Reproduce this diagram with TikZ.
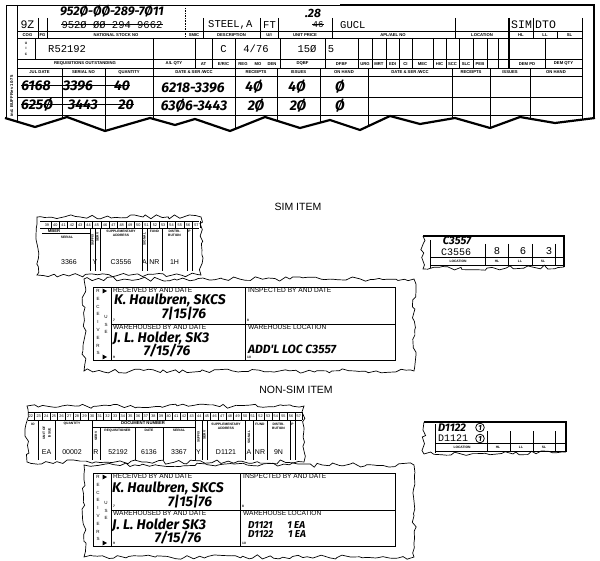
\documentclass[tikz,border=0pt]{standalone}
\usepackage{fontspec}
\setsansfont{Liberation Sans}
\setmonofont{Liberation Mono}
\newfontfamily\handfont{Fira Sans}
\usetikzlibrary{positioning, decorations.pathmorphing}

\tikzset{
  rule/.style={line width=0.65pt},
  heavy/.style={line width=2.4pt},
  strike/.style={line width=1pt},
  torn/.style={line width=0.7pt, decorate, decoration={random steps, segment length=5pt, amplitude=2.2pt}},
  lbl/.style={inner sep=0pt, font=\fontsize{4.2}{4.5}\sffamily\bfseries},
  tny/.style={inner sep=0pt, font=\fontsize{3.3}{3.6}\sffamily\bfseries},
  fld/.style={inner sep=0pt, font=\fontsize{6.6}{7}\sffamily},
  typ/.style={inner sep=0pt, font=\fontsize{10.5}{11}\ttfamily},
  hand/.style={inner sep=0pt, font=\fontsize{14}{15}\handfont\itshape\bfseries},
  punch/.style={inner sep=0pt, font=\fontsize{7}{8}\sffamily},
  num/.style={inner sep=0pt, font=\fontsize{3.8}{4}\sffamily},
  circ/.style={circle, draw, line width=0.8pt, inner sep=0.9pt, font=\fontsize{7.5}{8}\handfont\itshape\bfseries},
  title/.style={inner sep=0pt, font=\fontsize{10.5}{11}\sffamily},
}

\begin{document}
\begin{tikzpicture}[x=1pt, y=-1pt]
\pgfmathsetseed{11}
\useasboundingbox (0,0) rectangle (600,561);

% Stock card: rules
\draw[rule] (6,5) -- (6,135);
\draw[rule] (17,5) -- (17,135);
\draw[rule] (6,5) -- (340,5);
\foreach \y in {31,38,59,68,76,97,115}
  \draw[rule] (17,\y) -- (582,\y);
\foreach \x in {38,47,203,260,278,332,455,533}
  \draw[rule] (\x,18) -- (\x,38);
\draw[rule, densely dotted] (185,8) -- (185,38);
\draw[line width=1.3pt] (509,18) -- (509,68);
\draw[rule] (557,31) -- (557,38);
\draw[rule] (582,18) -- (582,135);
\draw[rule] (35,38) -- (35,59);
\foreach \x in {153,195,212,235,280,325,358,372,386,399,412,433,446,459,473,487,498,545}
  \draw[rule] (\x,38) -- (\x,68);
\foreach \x in {62,105,153,235,277,320,368,452,490,530}
  \draw[rule] (\x,68) -- (\x,135);

% Stock card: printed labels
\foreach \x/\t [count=\i] in {27.5/COG, 42.5/FG, 116/NATIONAL STOCK NO, 194/SMIC, 231.5/DESCRIPTION,
    269/{U/I}, 305/UNIT PRICE, 393/{APL/AEL NO}, 482/LOCATION, 521/HL, 545/LL, 569.5/SL}
  \node[lbl] (ha\i) at (\x,34.8) {\t};
\foreach \x/\t [count=\i] in {85/REQUISITIONS OUTSTANDING, 174/{A/L QTY}, 203.5/AT, 223.5/{E/R/C},
    243/REG, 258/MO, 272/DEN, 302.5/DQBF, 341.5/DFBF, 365/URG, 379/MRT, 392.5/EDI, 405.5/CI,
    422.5/MEC, 439.5/HIC, 452.5/SCC, 466/SLC, 480/PEB, 527/DEM PD, 563.5/DEM QTY}
  \node[lbl] (hb\i) at (\x,63.8) {\t};
\foreach \x/\t [count=\i] in {39.5/JUL DATE, 83.5/SERIAL NO, 129/QUANTITY, 194/{DATE \& SER /WCC},
    256/RECEIPTS, 298.5/ISSUES, 344/ON HAND, 410/{DATE \& SER /WCC}, 471/RECEIPTS, 510/ISSUES, 556/ON HAND}
  \node[lbl] (hc\i) at (\x,72.3) {\t};
\node[lbl, rotate=90] (form) at (11.5,96) {ind. BUFF Rev 10-75};
\foreach \c [count=\i from 0] in {U,I,C}
  \node[tny] (uic\i) at (26,43+\i*5.5) {\c};

% Stock card: entries
\node[typ, font=\fontsize{11.5}{12}\ttfamily] (cog) at (27.5,25) {9Z};
\node[hand, font=\fontsize{12.5}{13}\handfont\itshape\bfseries] (nsn) at (112,11.5) {952Ø-ØØ-289-7Ø11};
\node[typ] (oldnsn) at (112,25) {952Ø ØØ 294 9662};
\draw[strike] (oldnsn.west) -- (oldnsn.east);
\node[typ, anchor=west] (desc) at (208,25) {STEEL,A};
\node[typ, anchor=west] (ui) at (263,25) {FT};
\node[hand, font=\fontsize{12}{13}\handfont\itshape\bfseries] (price) at (313,13) {.28};
\node[typ, font=\fontsize{9}{9}\ttfamily] (oldprice) at (318,25) {46};
\draw[strike] (oldprice.west) -- (oldprice.east);
\node[typ, anchor=west] (gucl) at (340,25) {GUCL};
\node[typ, anchor=west, font=\fontsize{11.5}{12}\ttfamily] (sim) at (511,25) {SIM};
\node[typ, anchor=west, font=\fontsize{11.5}{12}\ttfamily] (dto) at (535,25) {DTO};
\node[typ, anchor=west] (req) at (48,49) {R52192};
\node[typ] (erc) at (223.5,49) {C};
\node[typ] (reg) at (256,49) {4/76};
\node[typ] (dqbf) at (307,49) {15Ø};
\node[typ] (dfbf) at (331,49) {5};

% Stock card: posting rows
\node[hand] (o1d) at (36,86) {6168};
\node[hand] (o1s) at (78,86) {3396};
\node[hand] (o1q) at (122,86) {40};
\draw[strike] (o1d.west) -- (o1q.east);
\node[hand] (o2d) at (37,105) {625Ø};
\node[hand] (o2s) at (83,105) {3443};
\node[hand] (o2q) at (126,105) {20};
\draw[strike] (o2d.west) -- (o2q.east);
\node[hand] (p1w) at (193,88) {6218-3396};
\node[hand] (p1r) at (254,87) {4Ø};
\node[hand] (p1i) at (297,87) {4Ø};
\node[hand] (p1h) at (340,87) {Ø};
\node[hand] (p2w) at (194,106) {63Ø6-3443};
\node[hand] (p2r) at (256,106) {2Ø};
\node[hand] (p2i) at (298,106) {2Ø};
\node[hand] (p2h) at (340,106) {Ø};

% Stock card: torn bottom and edge
\fill[white] (4,118) -- (35,127) -- (67,117) -- (105,131) -- (150,118) -- (175,125) -- (195,119)
  -- (230,131) -- (265,117) -- (300,128) -- (330,120) -- (360,130) -- (390,116) -- (420,124)
  -- (455,118) -- (490,128) -- (520,117) -- (555,123) -- (596,118) -- (596,140) -- (4,140) -- cycle;
\draw[line width=2.2pt] (5,118) -- (35,127) -- (67,117) -- (105,131) -- (150,118) -- (175,125) -- (195,119)
  -- (230,131) -- (265,117) -- (300,128) -- (330,120) -- (360,130) -- (390,116) -- (420,124)
  -- (455,118) -- (490,128) -- (520,117) -- (555,123) -- (595,118);
\draw[heavy] (340,5) -- (594,5) -- (594,119);

% Titles
\node[title] (simtitle) at (298,207) {SIM ITEM};
\node[title] (nonsimtitle) at (296,390) {NON-SIM ITEM};

% SIM item: card stub
\draw[rule] (40,221) -- (199,221);
\draw[rule] (40,228.5) -- (199,228.5);
\foreach \n [count=\i from 0] in {39,...,57} {
  \node[num] (s\n) at (47+\i*8.3,224.8) {\n};
  \draw[rule] (51.2+\i*8.3,221) -- (51.2+\i*8.3,228.5);
}
\foreach \x in {90,95,100,142,147,162,187,192}
  \draw[rule] (\x,228.5) -- (\x,271);
\draw[rule] (42,233) -- (90,233);
\node[lbl] (smber) at (54,231) {MBER};
\node[tny] (sserial) at (67,237) {SERIAL};
\node[tny, rotate=90] (ssuffix) at (92.5,240) {SUFFIX};
\node[tny, rotate=90] (sserv) at (97.5,237) {SERV};
\node[tny] (ssupp) at (121,231.5) {SUPPLEMENTARY};
\node[tny] (saddr) at (121,235.5) {ADDRESS};
\node[tny, rotate=90] (ssignal) at (144.5,239) {SIGNAL};
\node[tny] (sfund) at (154.5,231.5) {FUND};
\node[tny] (sdist) at (174.5,231.5) {DISTRI-};
\node[tny] (sdist2) at (174.5,235.5) {BUTION};
\node[tny] (sp) at (189.5,231.5) {P};
\foreach \x/\t [count=\i] in {69/3366, 95/Y, 121/C3556, 144.5/A, 154.5/NR, 174.5/1H}
  \node[punch] (sd\i) at (\x,262) {\t};
\draw[torn] (37,217) rectangle (201,275);

% SIM item: bin label
\draw[rule] (430,240) -- (430,268);
\foreach \x in {485,508,532,555}
  \draw[rule] (\x,244) -- (\x,266);
\draw[rule] (430,257) -- (564,257);
\draw[rule] (430,265.5) -- (564,265.5);
\draw[torn] (564,267) -- (423,269) -- (423,236);
\draw[line width=2pt] (423,236) -- (564,236) -- (564,267);
\node[hand, font=\fontsize{11}{12}\handfont\itshape\bfseries] (newloc) at (457,240.5) {C3557};
\node[typ, font=\fontsize{10}{10}\ttfamily] (oldloc) at (456,251.8) {C3556};
\node[typ] (hl) at (497,251) {8};
\node[typ] (ll) at (523,251) {6};
\node[typ] (sl) at (549,251) {3};
\foreach \x/\t [count=\i] in {458/LOCATION, 497/HL, 520/LL, 543/SL}
  \node[tny] (sb\i) at (\x,261.5) {\t};

% Receiver's use blocks
\foreach \oy/\mx in {0/245, 186/240} {
  \draw[torn] (84,279+\oy) rectangle (414,371+\oy);
  \draw[rule] (93,287+\oy) rectangle (395,360+\oy);
  \draw[rule] (111,287+\oy) -- (111,360+\oy);
  \draw[rule] (\mx,287+\oy) -- (\mx,360+\oy);
  \draw[rule] (111,324+\oy) -- (395,324+\oy);
  \foreach \c [count=\i from 0] in {R,E,C,E,I,V,E,R,S}
    \node[tny, font=\fontsize{4.5}{5}\sffamily] (rc\oy-\i) at (98,291+\i*7.8+\oy) {\c};
  \foreach \c [count=\i from 0] in {U,S,E}
    \node[tny, font=\fontsize{4.5}{5}\sffamily] (us\oy-\i) at (106,317+\i*7.5+\oy) {\c};
  \fill (102.5,288.5+\oy) -- (107,291+\oy) -- (102.5,293.5+\oy) -- cycle;
  \fill (102.5,354.5+\oy) -- (107,357+\oy) -- (102.5,359.5+\oy) -- cycle;
  \node[fld, anchor=west] (rb\oy) at (113,290.5+\oy) {RECEIVED BY AND DATE};
  \node[fld, anchor=west] (ib\oy) at (\mx+3,290.5+\oy) {INSPECTED BY AND DATE};
  \node[fld, anchor=west] (wb\oy) at (113,327.5+\oy) {WAREHOUSED BY AND DATE};
  \node[fld, anchor=west] (wl\oy) at (\mx+3,327.5+\oy) {WAREHOUSE LOCATION};
  \node[tny, anchor=west] (f7\oy) at (113,320+\oy) {7};
  \node[tny, anchor=west] (f8\oy) at (\mx+2,320+\oy) {8};
  \node[tny, anchor=west] (f9\oy) at (113,357+\oy) {9};
  \node[tny, anchor=west] (f10\oy) at (\mx+2,357+\oy) {10};
}
\node[hand, anchor=west] (rcv1) at (114,300) {K. Haulbren, SKCS};
\node[hand] (rdt1) at (184,314) {7|15|76};
\node[hand, anchor=west] (whs1) at (113,338) {J. L. Holder, SK3};
\node[hand] (wdt1) at (167,351) {7/15/76};
\node[hand, anchor=west, font=\fontsize{12}{13}\handfont\itshape\bfseries] (wloc1) at (248,349) {ADD'L LOC C3557};
\node[hand, anchor=west] (rcv2) at (112,488) {K. Haulbren, SKCS};
\node[hand] (rdt2) at (190,502) {7|15|76};
\node[hand, anchor=west] (whs2) at (112,525) {J. L. Holder SK3};
\node[hand] (wdt2) at (178,538) {7/15/76};
\node[hand, anchor=west, font=\fontsize{10}{11}\handfont\itshape\bfseries] (wloc2a) at (248,525) {D1121\quad\ \ 1 EA};
\node[hand, anchor=west, font=\fontsize{10}{11}\handfont\itshape\bfseries] (wloc2b) at (248,534) {D1122\quad\ \ 1 EA};

% NON-SIM item: card stub
\draw[rule] (28,412) -- (302,412);
\draw[rule] (28,420) -- (302,420);
\foreach \n [count=\i from 0] in {22,...,57} {
  \node[num] (t\n) at (31+\i*7.65,416) {\n};
  \draw[rule] (34.8+\i*7.65,412) -- (34.8+\i*7.65,420);
}
\foreach \x in {38,55,92,195,202,207,245,253,267,290,295}
  \draw[rule] (\x,420) -- (\x,460);
\foreach \x in {100,135,163}
  \draw[rule] (\x,427) -- (\x,460);
\draw[rule] (92,427) -- (195,427);
\node[tny] (nio) at (33,424) {IO};
\node[tny, rotate=90] (nunit) at (44,433) {UNIT OF};
\node[tny, rotate=90] (nissue) at (49.5,433) {ISSUE};
\node[tny] (nqty) at (72,424) {QUANTITY};
\node[lbl] (ndoc) at (143,423.5) {DOCUMENT NUMBER};
\node[tny, rotate=90] (nserv) at (96,436) {SERV};
\node[tny] (nreq) at (117.5,430.5) {REQUISITIONER};
\node[tny] (ndate) at (149,430.5) {DATE};
\node[tny] (nserial) at (179,430.5) {SERIAL};
\node[tny, rotate=90] (nsuffix) at (198.5,437) {SUFFIX};
\node[tny, rotate=90] (nserv2) at (204.5,435) {SERV};
\node[tny] (nsupp) at (226,424) {SUPPLEMENTARY};
\node[tny] (naddr) at (226,428) {ADDRESS};
\node[tny, rotate=90] (nsignal) at (249,437) {SIGNAL};
\node[tny] (nfund) at (260,424) {FUND};
\node[tny] (ndist) at (278.5,424) {DISTRI-};
\node[tny] (ndist2) at (278.5,428) {BUTION};
\node[tny] (np) at (292.5,424) {P};
\foreach \x/\t [count=\i] in {46.5/EA, 72/00002, 96/R, 118/52192, 149/6136, 179/3367, 198.5/Y,
    226/D1121, 249/A, 260/NR, 278.5/9N}
  \node[punch] (nd\i) at (\x,452) {\t};
\draw[torn] (27,406) rectangle (304,462);

% NON-SIM item: bin label
\draw[rule] (435,424) -- (435,453);
\foreach \x in {487,510,533,555}
  \draw[rule] (\x,431) -- (\x,452);
\draw[rule] (435,443) -- (566,443);
\draw[rule] (435,451.5) -- (566,451.5);
\draw[torn] (566,452) -- (424,454) -- (424,422);
\draw[line width=2pt] (424,422) -- (566,422) -- (566,452);
\node[hand, font=\fontsize{11}{12}\handfont\itshape\bfseries] (loc1) at (452,427.5) {D1122};
\node[circ] (q1) at (480,427.5) {1};
\node[typ, font=\fontsize{10}{10}\ttfamily] (loc2) at (453,438.6) {D1121};
\node[circ] (q2) at (480,438.5) {1};
\foreach \x/\t [count=\i] in {462/LOCATION, 498/HL, 521/LL, 544/SL}
  \node[tny] (nb\i) at (\x,447.5) {\t};
\end{tikzpicture}
\end{document}
